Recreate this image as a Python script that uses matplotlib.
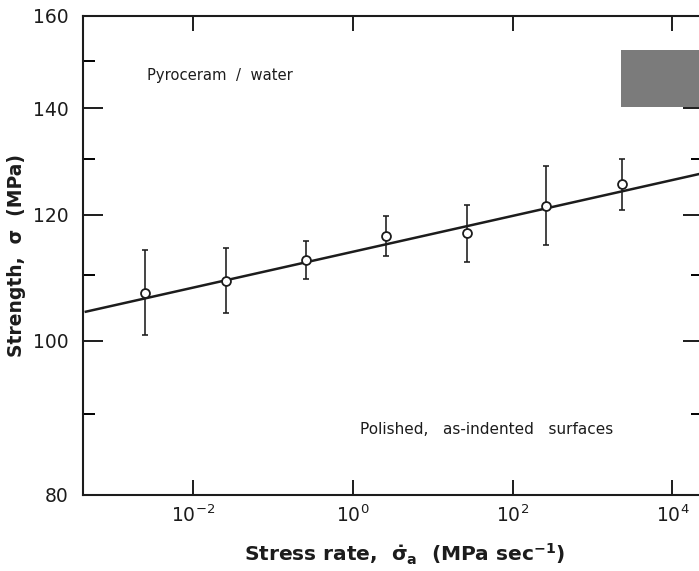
import matplotlib
matplotlib.use("Agg")
import matplotlib.pyplot as plt
from matplotlib.patches import Rectangle

# stress rate (MPa/s) and strength (MPa)
stress_rate = [2.5e-3, 2.6e-2, 2.6e-1, 2.6e0, 2.7e1, 2.65e2, 2.35e3]
strength = [107.2, 109.1, 112.4, 116.3, 116.9, 121.5, 125.4]
err_low = [100.8, 104.1, 109.4, 113.1, 112.1, 114.9, 120.8]
err_high = [114.0, 114.4, 115.5, 119.8, 121.7, 128.7, 130.0]

# fitted line end points
fit_x = [4.5e-4, 2.5e4]
fit_y = [104.3, 127.5]

x_ticks = [1e-2, 1e0, 1e2, 1e4]
x_ticklabels = [r"$10^{-2}$", r"$10^{0}$", r"$10^{2}$", r"$10^{4}$"]
y_ticks = [80, 100, 120, 140, 160]
y_minor = [90, 110, 130, 150]

ink = "#1c1c1c"
plt.rcParams["mathtext.fontset"] = "dejavusans"
plt.rcParams["font.family"] = ["DejaVu Sans"]

fig = plt.figure(figsize=(6.99, 5.71), dpi=100)
ax = fig.add_axes([83 / 699, 76 / 571, 620 / 699, 479 / 571])

ax.set_xscale("log")
ax.set_yscale("log")
ax.set_xlim(4.15e-4, 2.42e4)
ax.set_ylim(80, 160)

ax.plot(fit_x, fit_y, color=ink, lw=1.8, zorder=2)

yerr = [[s - lo for s, lo in zip(strength, err_low)],
        [hi - s for s, hi in zip(strength, err_high)]]
ax.errorbar(stress_rate, strength, yerr=yerr, fmt="none", ecolor=ink,
            elinewidth=1.15, capsize=2.0, capthick=1.15, zorder=3)
ax.plot(stress_rate, strength, "o", ms=6.4, mfc="white", mec=ink, mew=1.3,
        zorder=4)

ax.set_xticks(x_ticks)
ax.set_xticklabels(x_ticklabels)
ax.xaxis.set_minor_locator(matplotlib.ticker.NullLocator())
ax.set_yticks(y_ticks)
ax.set_yticklabels([str(v) for v in y_ticks])
ax.set_yticks(y_minor, minor=True)
ax.yaxis.set_minor_formatter(matplotlib.ticker.NullFormatter())

ax.tick_params(axis="x", which="major", direction="in", top=True, bottom=True,
               length=10.8, width=1.4, pad=7, labelsize=13.5, colors=ink)
ax.tick_params(axis="y", which="major", direction="in", left=True, right=True,
               length=14.4, width=1.4, pad=10.5, labelsize=13.5, colors=ink)
ax.tick_params(axis="y", which="minor", direction="in", left=True, right=True,
               length=8.6, width=1.4)

for sp in ax.spines.values():
    sp.set_linewidth(1.5)
    sp.set_color(ink)

ax.set_xlabel(r"Stress rate,  $\mathbf{\dot{\sigma}_a}$  (MPa sec$^\mathbf{-1}$)",
              fontsize=14.5, fontweight="bold", color=ink, labelpad=11, x=0.518)
ax.set_ylabel("Strength,  σ  (MPa)", fontsize=13.5, fontweight="bold",
              color=ink, labelpad=5)

ax.text(0.103, 0.875, "Pyroceram  /  water", transform=ax.transAxes,
        fontsize=10.6, color=ink, va="center", ha="left")
ax.text(0.447, 0.136, "Polished,   as-indented   surfaces",
        transform=ax.transAxes, fontsize=11, color=ink, va="center", ha="left")

# grey block in the upper right corner
fig.patches.append(Rectangle((621 / 699, 1 - 107 / 571), 78 / 699, 57 / 571,
                             transform=fig.transFigure, facecolor="#7b7b7b",
                             edgecolor="none"))

fig.savefig("out.png", dpi=100)
